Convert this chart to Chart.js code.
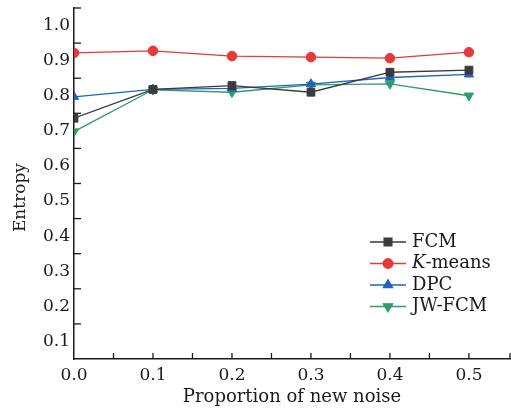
<!DOCTYPE html>
<html>
<head>
<meta charset="utf-8">
<script src="https://cdn.jsdelivr.net/npm/chart.js@4.4.0/dist/chart.umd.min.js"></script>
<style>
  html, body { margin: 0; padding: 0; background: #fff; }
  #wrap { width: 511px; height: 411px; }
</style>
</head>
<body>
<div id="wrap"><canvas id="entropyChart" width="511" height="411"></canvas></div>
<script>
// Proportion of new noise (x) and entropy per method (y)
const noise = [0.0, 0.1, 0.2, 0.3, 0.4, 0.5];
const fcm = [0.736, 0.818, 0.829, 0.810, 0.867, 0.873];
const kmeans = [0.922, 0.928, 0.913, 0.910, 0.907, 0.924];
const dpc = [0.797, 0.818, 0.821, 0.833, 0.852, 0.861];
const jwfcm = [0.698, 0.817, 0.810, 0.831, 0.834, 0.800];
const seriesNames = ["FCM", "K-means", "DPC", "JW-FCM"];

// tick labels
const xTickLabels = ["0.0", "0.1", "0.2", "0.3", "0.4", "0.5"];
const yTickLabels = ["0.1", "0.2", "0.3", "0.4", "0.5", "0.6", "0.7", "0.8", "0.9", "1.0"];

const FONT = "'DejaVu Serif', 'Liberation Serif', serif";
const INK = "#1a1a1a";

function toPoints(ys) {
    return noise.map((x, i) => ({ x: x, y: ys[i] }));
}

function findLabel(list, v) {
    const hit = list.find(s => Math.abs(parseFloat(s) - v) < 1e-6);
    return hit || "";
}

// inward tick marks like the original figure, plus the y title
const innerTicks = {
    id: "innerTicks",
    afterDraw(chart) {
        const { ctx, chartArea, scales } = chart;
        ctx.save();
        ctx.strokeStyle = INK;
        ctx.lineWidth = 1.3;
        scales.x.ticks.forEach(t => {
            if (t.value <= 0.001) return;
            const px = scales.x.getPixelForValue(t.value);
            ctx.beginPath();
            ctx.moveTo(px, chartArea.bottom);
            ctx.lineTo(px, chartArea.bottom - 6);
            ctx.stroke();
        });
        scales.y.ticks.forEach(t => {
            if (findLabel(yTickLabels, t.value) !== "") return;
            if (t.value <= 0.051) return;
            const py = scales.y.getPixelForValue(t.value);
            ctx.beginPath();
            ctx.moveTo(chartArea.left, py);
            ctx.lineTo(chartArea.left + 7, py);
            ctx.stroke();
        });

        // "Entropy" sits a bit below the middle of the axis in the original
        ctx.translate(21, scales.y.getPixelForValue(0.51));
        ctx.rotate(-Math.PI / 2);
        ctx.fillStyle = INK;
        ctx.font = "17px " + FONT;
        ctx.textAlign = "center";
        ctx.textBaseline = "middle";
        ctx.fillText("Entropy", 0, 0);
        ctx.restore();
    }
};

// legend drawn by hand so that "K" can be italic
const figLegend = {
    id: "figLegend",
    afterDraw(chart) {
        const ctx = chart.ctx;
        const x0 = 370, x1 = 406, textX = 412, y0 = 242, dy = 21.5;
        ctx.save();
        chart.data.datasets.forEach((ds, i) => {
            const y = y0 + i * dy;
            ctx.strokeStyle = ds.borderColor;
            ctx.lineWidth = ds.borderWidth;
            ctx.beginPath();
            ctx.moveTo(x0, y);
            ctx.lineTo(x1, y);
            ctx.stroke();
            ctx.fillStyle = ds.pointBackgroundColor;
            ctx.strokeStyle = ds.pointBorderColor;
            Chart.helpers.drawPoint(ctx, {
                pointStyle: ds.pointStyle,
                radius: ds.pointRadius,
                rotation: ds.pointRotation || 0,
                borderWidth: 1
            }, (x0 + x1) / 2, y);

            ctx.fillStyle = INK;
            ctx.textBaseline = "middle";
            ctx.textAlign = "left";
            let tx = textX;
            let label = ds.label;
            if (label.startsWith("K-")) {
                ctx.font = "italic 18px " + FONT;
                ctx.fillText("K", tx, y);
                tx += ctx.measureText("K").width;
                label = label.slice(1);
            }
            ctx.font = "18px " + FONT;
            ctx.fillText(label, tx, y);
        });
        ctx.restore();
    }
};

const ctx = document.getElementById("entropyChart").getContext("2d");

new Chart(ctx, {
    type: "line",
    data: {
        datasets: [
            {
                label: seriesNames[0],
                data: toPoints(fcm),
                borderColor: "#3a3a3a",
                pointBackgroundColor: "#3a3a3a",
                pointBorderColor: "#3a3a3a",
                pointStyle: "rect",
                pointRadius: 5.5
            },
            {
                label: seriesNames[1],
                data: toPoints(kmeans),
                borderColor: "#e5393d",
                pointBackgroundColor: "#e5393d",
                pointBorderColor: "#e5393d",
                pointStyle: "circle",
                pointRadius: 4.8
            },
            {
                label: seriesNames[2],
                data: toPoints(dpc),
                borderColor: "#2062c2",
                pointBackgroundColor: "#2062c2",
                pointBorderColor: "#2062c2",
                pointStyle: "triangle",
                pointRadius: 5.3
            },
            {
                label: seriesNames[3],
                data: toPoints(jwfcm),
                borderColor: "#2a9d68",
                pointBackgroundColor: "#2a9d68",
                pointBorderColor: "#2a9d68",
                pointStyle: "triangle",
                pointRotation: 180,
                pointRadius: 5.3
            }
        ].map(d => Object.assign({ borderWidth: 1.3, tension: 0, fill: false, pointBorderWidth: 1 }, d))
    },
    options: {
        responsive: false,
        animation: false,
        events: [],
        layout: { autoPadding: false, padding: { top: 8, right: 1, left: 0, bottom: 0 } },
        plugins: {
            legend: { display: false },
            tooltip: { enabled: false }
        },
        scales: {
            x: {
                type: "linear",
                min: 0,
                max: 0.552,
                afterFit: s => { s.height = 52; s.paddingLeft = 0; s.paddingRight = 0; },
                border: { display: true, color: INK, width: 1.5 },
                grid: { display: false, drawTicks: false },
                ticks: {
                    stepSize: 0.05,
                    autoSkip: false,
                    maxRotation: 0,
                    padding: 6,
                    color: INK,
                    font: { family: FONT, size: 17 },
                    callback: v => findLabel(xTickLabels, v)
                },
                title: {
                    display: true,
                    text: "Proportion of new noise",
                    color: INK,
                    font: { family: FONT, size: 18 },
                    padding: { top: 0, bottom: 3 }
                }
            },
            y: {
                min: 0.05,
                max: 1.05,
                afterFit: s => { s.width = 74; s.paddingTop = 0; s.paddingBottom = 0; },
                border: { display: true, color: INK, width: 1.5 },
                grid: { display: false, drawTicks: false },
                ticks: {
                    stepSize: 0.05,
                    autoSkip: false,
                    padding: 4,
                    color: INK,
                    font: { family: FONT, size: 17 },
                    callback: v => findLabel(yTickLabels, v)
                }
            }
        }
    },
    plugins: [innerTicks, figLegend]
});
</script>
</body>
</html>
